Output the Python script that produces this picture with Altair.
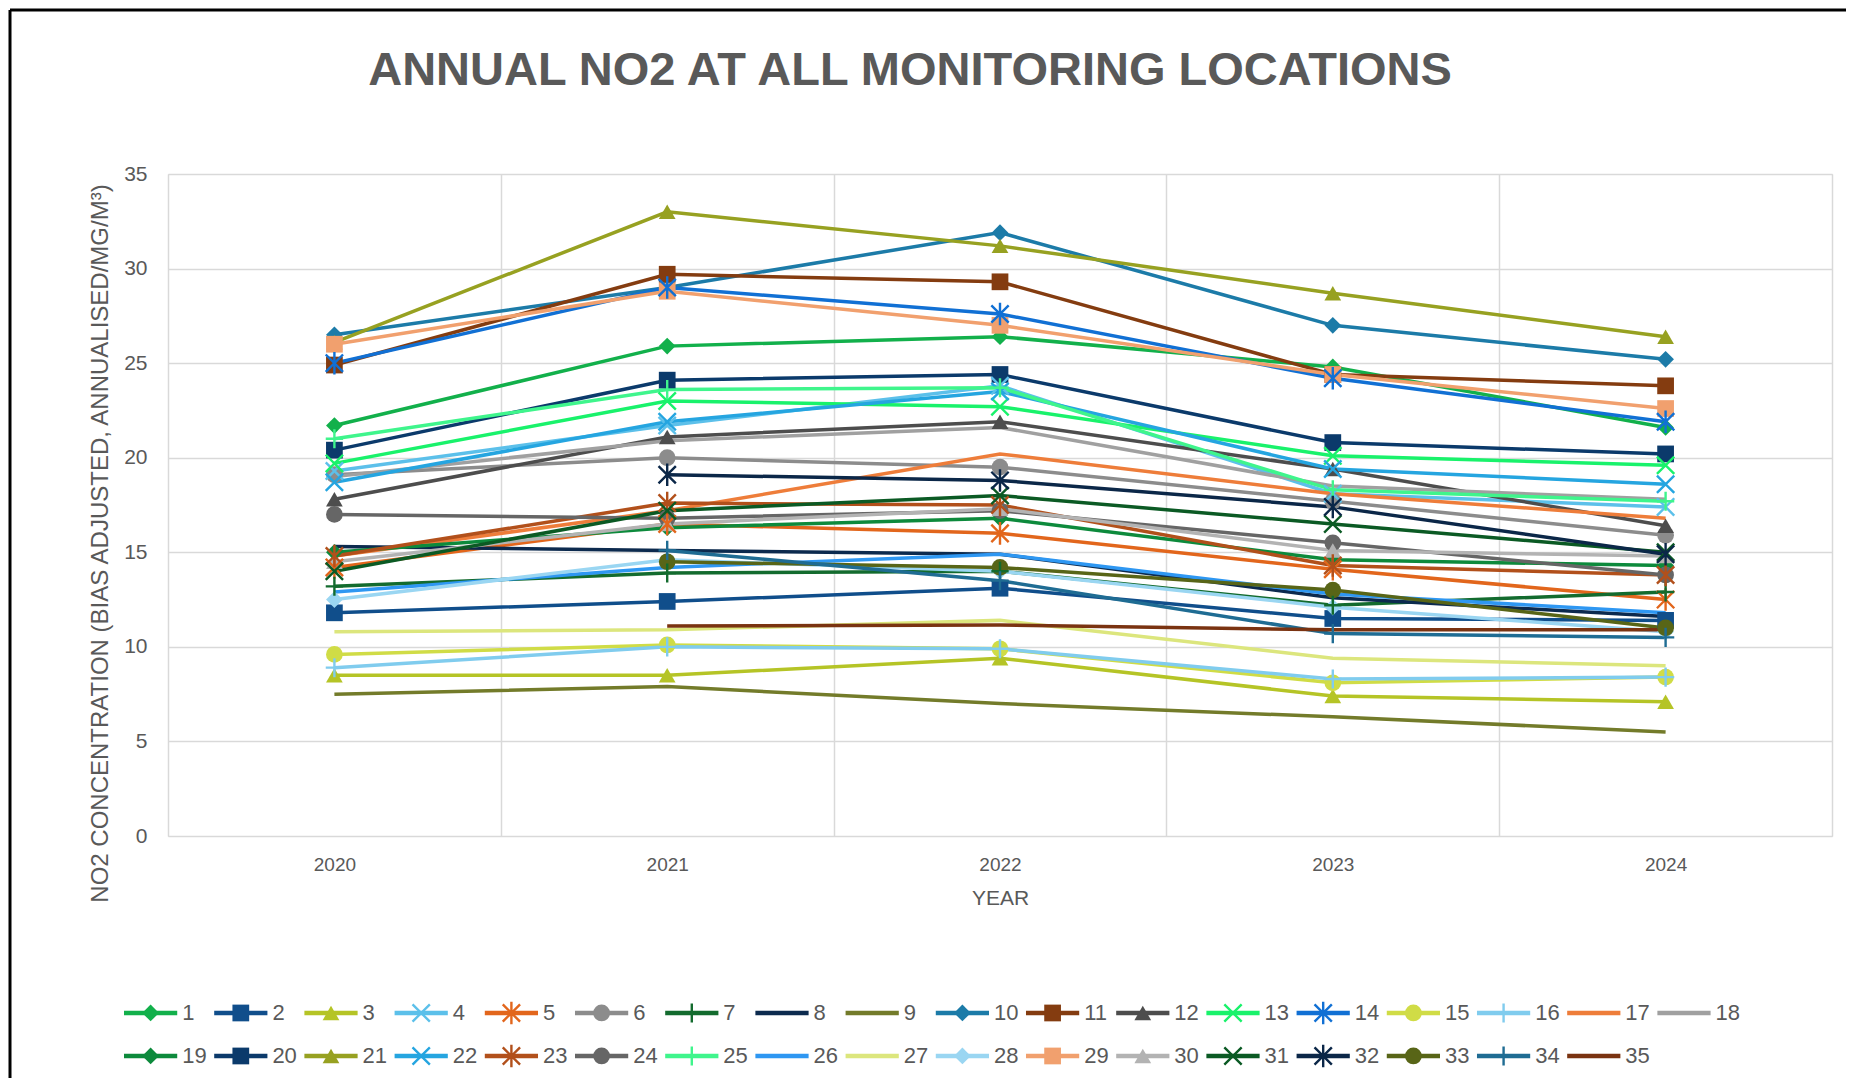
import altair as alt
import pandas as pd

years = ["2020", "2021", "2022", "2023", "2024"]
sites = [str(i) for i in range(1, 36)]

colors = [
    "#12B04B", "#104E8B", "#B5C426", "#5CC0EA", "#E2661C", "#8C8C8C", "#136B2E", "#0C2A4E", "#737B2A",
    "#1C7BA8", "#843C10", "#4D4D4D", "#19F26B", "#1170D4", "#D0DC46", "#80CCEE", "#EE7D3A", "#A0A0A0",
    "#0D8A3C", "#0B3A6B", "#97A121", "#25A5E0", "#B2501B", "#666666", "#3FF58C", "#2E97F2", "#DCE67D",
    "#9AD6F2", "#F1A06E", "#B3B3B3", "#0B5A24", "#0B2748", "#586517", "#1F6C93", "#7A3311",
]

markers = [
    "diamond", "square", "triangle", "x", "asterisk", "circle", "plus", "none", "none",
    "diamond", "square", "triangle", "x", "asterisk", "circle", "plus", "none", "none",
    "diamond", "square", "triangle", "x", "asterisk", "circle", "plus", "none", "none",
    "diamond", "square", "triangle", "x", "asterisk", "circle", "plus", "none",
]

s1 = [21.7, 25.9, 26.4, 24.8, 21.6]
s2 = [11.8, 12.4, 13.1, 11.5, 11.4]
s3 = [8.5, 8.5, 9.4, 7.4, 7.1]
s4 = [19.3, 21.7, 23.8, 18.1, 17.4]
s5 = [14.2, 16.5, 16.0, 14.1, 12.5]
s6 = [19.1, 20.0, 19.5, 17.7, 15.9]
s7 = [13.2, 13.9, 14.0, 12.2, 12.9]
s8 = [15.3, 15.1, 14.9, 12.6, 11.6]
s9 = [7.5, 7.9, 7.0, 6.3, 5.5]
s10 = [26.5, 29.0, 31.9, 27.0, 25.2]
s11 = [24.9, 29.7, 29.3, 24.4, 23.8]
s12 = [17.8, 21.1, 21.9, 19.4, 16.4]
s13 = [19.7, 23.0, 22.7, 20.1, 19.6]
s14 = [25.0, 29.0, 27.6, 24.2, 21.9]
s15 = [9.6, 10.1, 9.9, 8.1, 8.4]
s16 = [8.9, 10.0, 9.9, 8.3, 8.4]
s17 = [14.8, 17.2, 20.2, 18.1, 16.8]
s18 = [19.0, 20.9, 21.6, 18.5, 17.8]
s19 = [15.0, 16.3, 16.8, 14.6, 14.3]
s20 = [20.4, 24.1, 24.4, 20.8, 20.2]
s21 = [26.1, 33.0, 31.2, 28.7, 26.4]
s22 = [18.7, 21.9, 23.5, 19.4, 18.6]
s23 = [14.8, 17.6, 17.5, 14.3, 13.8]
s24 = [17.0, 16.8, 17.2, 15.5, 13.8]
s25 = [21.0, 23.6, 23.7, 18.3, 17.7]
s26 = [12.9, 14.2, 14.9, 12.8, 11.8]
s27 = [10.8, 10.9, 11.4, 9.4, 9.0]
s28 = [12.5, 14.6, 14.0, 12.1, 10.8]
s29 = [26.0, 28.8, 27.0, 24.4, 22.6]
s30 = [14.5, 16.5, 17.3, 15.1, 14.8]
s31 = [14.0, 17.2, 18.0, 16.5, 15.0]
s32 = [None, 19.1, 18.8, 17.4, 14.9]
s33 = [None, 14.5, 14.2, 13.0, 11.0]
s34 = [None, 15.1, 13.5, 10.7, 10.5]
s35 = [None, 11.1, 11.15, 10.9, 10.9]

series = [s1, s2, s3, s4, s5, s6, s7, s8, s9, s10, s11, s12, s13, s14, s15, s16, s17, s18,
          s19, s20, s21, s22, s23, s24, s25, s26, s27, s28, s29, s30, s31, s32, s33, s34, s35]

title_text = "ANNUAL NO2 AT ALL MONITORING LOCATIONS"
y_title = "NO2 CONCENTRATION (BIAS ADJUSTED, ANNUALISED/MG/M³)"
x_title = "YEAR"

rows = []
for i, site in enumerate(sites):
    for yr, v in zip(years, series[i]):
        if v is not None:
            rows.append({"site": site, "year": yr, "value": v, "marker": markers[i]})
df = pd.DataFrame(rows)

leg_df = pd.DataFrame({
    "site": sites,
    "col": [i % 18 for i in range(35)],
    "row": [i // 18 for i in range(35)],
    "marker": markers,
})

TXT = "#595959"
GRID = "#D9D9D9"
FONT = "Liberation Sans"

cscale = alt.Scale(domain=sites, range=colors)
shape_dom = ["diamond", "square", "triangle", "circle", "x", "asterisk", "plus"]
shape_rng = ["diamond", "square", "triangle-up", "circle",
             "M-1,-1L1,1M-1,1L1,-1",
             "M-1,-1L1,1M-1,1L1,-1M0,-1.3L0,1.3",
             "M-1,0L1,0M0,-1.1L0,1.1"]
sscale = alt.Scale(domain=shape_dom, range=shape_rng)
filled_types = ["diamond", "square", "triangle", "circle"]
stroke_types = ["x", "asterisk", "plus"]

xenc = alt.X(
    "year:O", sort=years, bandPosition=0.5,
    scale=alt.Scale(type="band", paddingInner=0, paddingOuter=0),
    axis=alt.Axis(labelAngle=0, ticks=False, domain=False, grid=True, gridColor=GRID, gridWidth=1.5,
                  tickBand="extent", labelFontSize=19, labelColor=TXT, labelPadding=19, labelFont=FONT,
                  title=x_title, titleFontSize=21, titleColor=TXT, titleFontWeight="normal",
                  titleFont=FONT, titlePadding=13),
)
yenc = alt.Y(
    "value:Q", scale=alt.Scale(domain=[0, 35], nice=False),
    axis=alt.Axis(values=[0, 5, 10, 15, 20, 25, 30, 35], grid=True, gridColor=GRID, gridWidth=1.5,
                  domain=False, ticks=False, labelFontSize=21, labelColor=TXT, labelPadding=21,
                  labelFont=FONT, title=y_title, titleFontSize=24, titleColor=TXT,
                  titleFontWeight="normal", titleFont=FONT, titlePadding=11, titleY=369),
)
cenc = alt.Color("site:N", scale=cscale, legend=None)
shenc = alt.Shape("marker:N", scale=sscale, legend=None)

base = alt.Chart(df)
lines = base.mark_line(strokeWidth=3.5).encode(x=xenc, y=yenc, color=cenc)
pts_f = base.transform_filter(
    alt.FieldOneOfPredicate(field="marker", oneOf=filled_types)
).mark_point(filled=True, size=280, opacity=1).encode(x=xenc, y=yenc, color=cenc, shape=shenc)
pts_s = base.transform_filter(
    alt.FieldOneOfPredicate(field="marker", oneOf=stroke_types)
).mark_point(filled=False, size=300, strokeWidth=2.4, opacity=1).encode(x=xenc, y=yenc, color=cenc, shape=shenc)
main = alt.layer(lines, pts_f, pts_s)

leg_x = alt.Scale(domain=[0.4878, 18.936], zero=False, nice=False)
leg_y = alt.Scale(domain=[-19.512, -4.116], reverse=True, zero=False, nice=False)
lbase = alt.Chart(leg_df).transform_calculate(
    xs="datum.col", xe="datum.col + 0.59", xm="datum.col + 0.295", xt="datum.col + 0.645"
)
lyenc = alt.Y("row:Q", scale=leg_y, axis=None)
l_rule = lbase.mark_rule(strokeWidth=4.5).encode(
    x=alt.X("xs:Q", scale=leg_x, axis=None), x2="xe:Q", y=lyenc, color=cenc)
l_pf = lbase.transform_filter(
    alt.FieldOneOfPredicate(field="marker", oneOf=filled_types)
).mark_point(filled=True, size=280, opacity=1).encode(
    x=alt.X("xm:Q", scale=leg_x, axis=None), y=lyenc, color=cenc, shape=shenc)
l_ps = lbase.transform_filter(
    alt.FieldOneOfPredicate(field="marker", oneOf=stroke_types)
).mark_point(filled=False, size=300, strokeWidth=2.4, opacity=1).encode(
    x=alt.X("xm:Q", scale=leg_x, axis=None), y=lyenc, color=cenc, shape=shenc)
l_txt = lbase.mark_text(align="left", baseline="middle", fontSize=22, color=TXT, font=FONT).encode(
    x=alt.X("xt:Q", scale=leg_x, axis=None), y=lyenc, text="site:N")
legend = alt.layer(l_rule, l_pf, l_ps, l_txt)

frame_df = pd.DataFrame({"k": [0]})
frame_top = alt.Chart(frame_df).mark_rule(color="black", strokeWidth=3).encode(
    x=alt.value(-158), x2=alt.value(1678), y=alt.value(-164))
frame_left = alt.Chart(frame_df).mark_rule(color="black", strokeWidth=3).encode(
    x=alt.value(-158), y=alt.value(-164), y2=alt.value(904))

chart = alt.layer(main, legend, frame_top, frame_left).resolve_scale(
    x="independent", y="independent"
).properties(
    width=1664, height=662, padding=0,
    title=alt.Title(title_text, fontSize=47, font=FONT, fontWeight="bold", color=TXT,
                    anchor="middle", dx=-90, offset=-86),
).configure_view(stroke=None).configure(font=FONT)

chart.save("out.html", embed_options={"renderer": "svg", "actions": False})
